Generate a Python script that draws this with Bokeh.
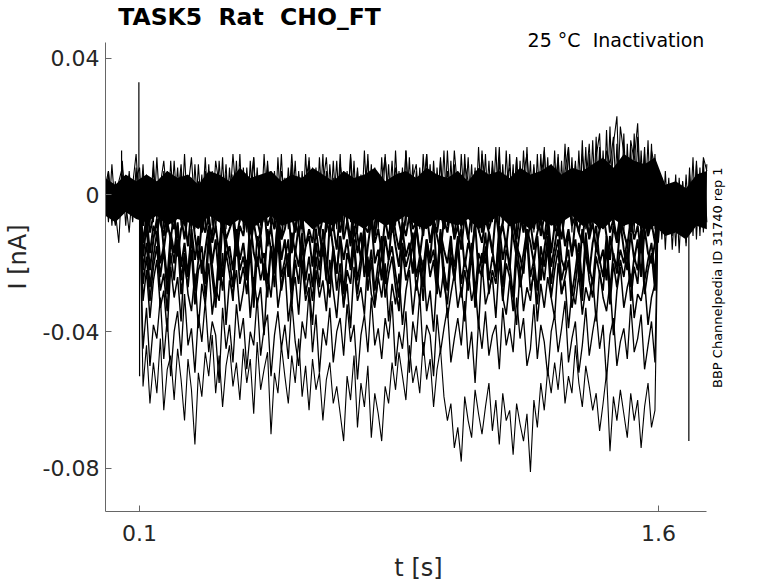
import numpy as np
from bokeh.plotting import figure
from bokeh.models import Range1d, FixedTicker, Label
from bokeh.embed import file_html
from bokeh.resources import INLINE

# ---------------- texts / ticks ----------------
title_text = "TASK5\u00a0 Rat\u00a0 CHO_FT"
cond_text = "25 °C\u00a0 Inactivation"
id_text = "BBP Channelpedia ID 31740 rep 1"
x_label = "t [s]"
y_label = "I [nA]"
x_ticks = [0.1, 1.6]
x_tick_labels = ["0.1", "1.6"]
y_ticks = [-0.08, -0.04, 0.0, 0.04]
y_tick_labels = ["-0.08", "-0.04", "0", "0.04"]
x_limits = (0.0015, 1.739)
y_limits = (-0.0926, 0.0446)

# ---------------- data (currents read in pA, 1 pA = 0.001 nA) ----------------
# solid core of the baseline band, sampled every 0.03 s from 0 to 1.74 s
env_hi = [5, 3, 6, 4,
          6, 4, 7, 5, 6, 3, 7, 6, 4, 8, 5, 6, 7, 4, 6, 5, 8, 6, 4, 7, 5, 6,
          8, 4, 6, 7, 5, 8, 6, 5, 7, 4, 8, 6, 7, 5, 8, 6, 7, 9, 6, 8, 7,
          9, 11, 8, 12, 10, 9, 11,
          3, 4, 2, 6, 7]
env_lo = [-6, -8, -5, -7,
          -8, -6, -9, -7, -8, -10, -6, -8, -9, -7, -10, -8, -6, -9, -8, -7,
          -10, -8, -9, -6, -8, -10, -7, -9, -8, -6, -9, -10, -7, -8, -9, -7,
          -10, -8, -6, -9, -8, -10, -7, -9, -8, -6, -9,
          -8, -10, -7, -9, -8, -10, -9,
          -12, -11, -13, -9, -10]

# baseline traces, whole record 0 .. 1.74 s (every 0.01 s)
band1 = [5, -8, 9, -5, -14, 6, -9, 7, -6, 8,
         -7, 9, -10, 4, -8, 11, -6, 7, -11, 10,
         -5, 8, -9, 12, -7, 5, -10, 9, -6, 11,
         -8, 7, -11, 10, -4, 9, -9, 6, -7, 12,
         -10, 8, -6, 11, -9, 5, -8, 10, -11, 7,
         -6, 12, -9, 8, -5, 10, -10, 7, -8, 11,
         -9, 6, -7, 12, -11, 9, -5, 10, -8, 7,
         -10, 11, -6, 8, -9, 13, -7, 9, -11, 6,
         -8, 12, -5, 10, -9, 7, -10, 13, -6, 9,
         -11, 8, -7, 12, -9, 10, -6, 11, -8, 13,
         -7, 9, -10, 12, -5, 11, -9, 8, -11, 13,
         -6, 10, -8, 14, -9, 9, -7, 12, -10, 11,
         -8, 13, -6, 10, -11, 12, -9, 14, -7, 9,
         -10, 12, -8, 15, -6, 11, -9, 13, -7, 14,
         -9, 16, -7, 14, -10, 19, -6, 15, 23, -8,
         -11, 15, -7, 18, -9, 13, -6, 16, -10, 12,
         -14, 5, -16, 3, -12, 6, -17, 4, -15, 8,
         -12, 9, -10, 10, -8]
band2 = [-6, 7, -9, 4, -7, 10, -5, 6, -8, 5,
         8, -9, 6, -6, 10, -8, 5, -10, 7, -7,
         10, -6, 7, -9, 4, -11, 9, -7, 6, -10,
         9, -9, 5, -7, 11, -10, 8, -6, 10, -8,
         6, -11, 10, -7, 8, -9, 12, -6, 7, -10,
         11, -7, 5, -10, 9, -8, 7, -11, 12, -6,
         8, -10, 11, -6, 7, -9, 10, -7, 12, -11,
         7, -8, 10, -11, 6, -7, 12, -9, 8, -10,
         11, -7, 9, -10, 13, -6, 8, -9, 11, -8,
         7, -10, 12, -6, 9, -11, 8, -7, 13, -9,
         10, -8, 7, -11, 12, -6, 9, -10, 14, -7,
         12, -9, 8, -7, 11, -10, 13, -6, 9, -11,
         10, -7, 14, -9, 8, -10, 12, -6, 11, -8,
         13, -9, 10, -7, 14, -11, 9, -8, 16, -10,
         12, -8, 17, -11, 13, -7, 20, -9, 15, -10,
         18, -8, 14, -11, 17, -7, 12, -9, 15, -10,
         4, -13, 7, -11, 2, -15, 5, -12, 6, -10,
         11, -13, 8, -11, 9]
band3 = [2, 7, -3, -9, 4, 8, -2, -11, 3, 12,
         -4, 6, 1, -9, 8, -6, 3, 10, -2, -8,
         5, -1, 9, -7, 2, 11, -5, 4, -10, 7,
         1, -6, 10, 3, -9, 6, -3, 12, -1, -7,
         8, -4, 2, 11, -8, 5, -2, 9, -6, 3,
         -10, 7, 1, -5, 12, -3, 6, -9, 4, 10,
         -2, 8, -7, 3, 11, -4, 5, -10, 9, 1,
         -6, 12, -3, 7, -9, 2, 10, -5, 6, -8,
         4, 11, -1, -10, 8, 3, -6, 13, -4, 5,
         9, -7, 2, 12, -3, 6, -9, 10, -2, 7,
         -5, 13, 1, -8, 9, 4, -11, 7, -3, 12,
         3, -6, 10, -2, 14, -9, 5, 8, -4, 11,
         -7, 6, 12, -3, 9, -10, 4, 13, -5, 8,
         2, 11, -8, 7, 14, -4, 10, -6, 12, 3,
         15, -5, 11, 18, -7, 13, 9, 17, -4, 20,
         12, -6, 16, 10, 21, -3, 14, -9, 13, 8,
         -13, 2, -9, 5, -16, 1, -11, 4, -14, 6,
         -9, 10, -12, 11, 7]

# conditioning-pulse sweeps, 0.10 .. 1.60 s (every 0.01 s)
sweep_f = [0, -9, -3, -11, -6, -1, -8, -12, -4, -7,
           -10, -2, -6, -13, -5, -9, -1, -7, -11, -4,
           -8, -12, -3, -6, -10, -2, -9, -5, -13, -7,
           -1, -8, -11, -4, -7, -12, -3, -9, -6, -10,
           -5, -13, -2, -8, -6, -11, -4, -10, -1, -7,
           -9, -3, -12, -6, -8, -2, -10, -5, -11, -4,
           -7, -13, -1, -9, -6, -10, -3, -8, -12, -5,
           -2, -9, -7, -11, -4, -8, -13, -6, -3, -10,
           -8, -5, -12, -2, -9, -7, -11, -4, -10, -1,
           -6, -12, -3, -9, -7, -13, -5, -8, -2, -11,
           -4, -10, -6, -1, -12, -8, -3, -9, -7, -13,
           -5, -11, -2, -8, -10, -4, -12, -6, -9, -3,
           -10, -7, -13, -5, -1, -9, -6, -11, -4, -8,
           -12, -3, -8, -10, -6, -2, -11, -7, -13, -5,
           -9, -4, -11, -7, -1, -10, -6, -12, -3, -8,
           0]
sweep_a = [0, -14, -6, -17, -9, -12, -4, -16, -8, -13,
           -5, -18, -10, -7, -15, -3, -12, -19, -8, -11,
           -6, -14, -9, -17, -4, -13, -10, -7, -18, -9,
           -12, -5, -16, -8, -14, -11, -3, -15, -9, -19,
           -7, -13, -10, -4, -17, -8, -12, -6, -15, -10,
           -14, -5, -11, -18, -7, -12, -9, -16, -4, -13,
           -8, -15, -6, -12, -19, -9, -11, -5, -14, -10,
           -17, -7, -13, -4, -11, -16, -8, -12, -6, -15,
           -9, -18, -10, -5, -14, -8, -12, -17, -7, -11,
           -4, -13, -9, -16, -6, -12, -19, -8, -10, -14,
           -7, -11, -17, -5, -13, -9, -15, -6, -12, -18,
           -10, -4, -14, -8, -16, -11, -7, -13, -5, -17,
           -9, -12, -6, -15, -10, -18, -7, -11, -14, -4,
           -13, -8, -16, -10, -5, -12, -19, -9, -14, -6,
           -11, -15, -7, -13, -9, -17, -5, -12, -8, -14,
           0]
sweep_h = [0, -18, -9, -22, -13, -7, -20, -15, -25, -11,
           -17, -8, -21, -14, -24, -10, -19, -12, -23, -16,
           -9, -20, -13, -25, -7, -18, -15, -22, -11, -19,
           -14, -23, -8, -17, -21, -12, -25, -10, -16, -20,
           -7, -19, -13, -24, -11, -17, -9, -22, -15, -12,
           -21, -10, -18, -14, -25, -8, -16, -23, -12, -19,
           -13, -22, -9, -17, -11, -24, -15, -7, -20, -16,
           -25, -12, -19, -8, -15, -21, -10, -18, -14, -23,
           -9, -17, -22, -13, -19, -7, -24, -11, -16, -20,
           -12, -25, -15, -10, -21, -14, -18, -8, -23, -17,
           -20, -11, -16, -24, -9, -19, -13, -22, -7, -15,
           -18, -23, -10, -14, -20, -12, -25, -16, -9, -21,
           -15, -8, -19, -22, -11, -17, -13, -24, -10, -18,
           -23, -14, -9, -20, -16, -25, -12, -18, -21, -8,
           -16, -22, -11, -19, -13, -24, -10, -17, -20, -14,
           0]
sweep_b = [0, -22, -14, -27, -18, -11, -24, -16, -29, -13,
           -20, -9, -25, -17, -23, -12, -28, -19, -15, -26,
           -11, -21, -30, -16, -24, -13, -19, -27, -10, -22,
           -18, -25, -14, -29, -12, -20, -17, -26, -15, -23,
           -9, -24, -19, -13, -28, -16, -21, -11, -25, -18,
           -27, -14, -22, -10, -19, -26, -15, -23, -12, -29,
           -17, -21, -13, -25, -18, -9, -24, -16, -28, -20,
           -12, -26, -19, -15, -23, -30, -14, -21, -17, -11,
           -24, -18, -27, -13, -20, -16, -25, -10, -22, -28,
           -15, -21, -12, -26, -19, -24, -14, -29, -17, -20,
           -11, -25, -18, -22, -13, -27, -16, -20, -30, -14,
           -23, -17, -10, -24, -19, -28, -15, -21, -12, -26,
           -18, -13, -25, -20, -16, -29, -22, -14, -27, -11,
           -21, -26, -15, -19, -24, -12, -28, -17, -23, -16,
           -20, -13, -27, -18, -22, -10, -25, -19, -14, -24,
           0]
sweep_g = [0, -26, -18, -31, -21, -15, -28, -23, -34, -17,
           -25, -13, -29, -20, -27, -16, -32, -22, -19, -30,
           -14, -24, -33, -19, -28, -17, -23, -31, -12, -26,
           -21, -29, -16, -33, -18, -25, -20, -30, -15, -27,
           -13, -28, -22, -17, -32, -19, -26, -14, -29, -23,
           -31, -18, -27, -14, -24, -30, -16, -28, -20, -33,
           -22, -26, -15, -29, -21, -12, -28, -19, -32, -24,
           -17, -30, -23, -18, -27, -34, -16, -25, -21, -14,
           -28, -20, -31, -15, -24, -19, -29, -13, -26, -32,
           -18, -25, -14, -30, -22, -28, -17, -33, -21, -24,
           -15, -29, -22, -26, -16, -31, -20, -24, -34, -18,
           -27, -21, -13, -28, -23, -32, -18, -25, -15, -30,
           -22, -16, -29, -24, -19, -33, -26, -17, -31, -14,
           -25, -30, -18, -23, -28, -15, -32, -20, -27, -19,
           -24, -16, -31, -21, -26, -13, -29, -22, -17, -28,
           0]
sweep_c = [0, -31, -22, -36, -25, -19, -33, -28, -40, -21,
           -30, -24, -37, -18, -29, -34, -23, -39, -26, -32,
           -20, -35, -27, -31, -17, -38, -25, -29, -22, -34,
           -28, -19, -36, -24, -32, -27, -41, -23, -30, -18,
           -33, -26, -21, -37, -29, -24, -35, -20, -31, -27,
           -38, -22, -30, -25, -34, -19, -28, -36, -23, -32,
           -26, -39, -21, -31, -27, -35, -18, -29, -33, -24,
           -30, -20, -37, -26, -32, -23, -38, -28, -22, -35,
           -25, -31, -19, -34, -28, -40, -24, -30, -21, -36,
           -29, -23, -33, -27, -37, -22, -31, -26, -39, -20,
           -32, -28, -24, -36, -19, -30, -35, -25, -29, -38,
           -22, -34, -27, -31, -21, -37, -26, -33, -24, -30,
           -36, -20, -29, -25, -39, -28, -32, -23, -35, -27,
           -31, -24, -37, -22, -30, -34, -26, -41, -28, -21,
           -33, -27, -23, -36, -29, -31, -25, -38, -30, -26,
           0]
sweep_d = [0, -45, -33, -50, -38, -42, -30, -48, -36, -53,
           -40, -34, -47, -29, -44, -39, -52, -35, -43, -31,
           -46, -37, -41, -55, -33, -45, -38, -49, -32, -42,
           -36, -51, -40, -44, -30, -47, -39, -35, -53, -41,
           -34, -45, -38, -48, -31, -43, -50, -37, -42, -28,
           -46, -35, -52, -39, -44, -33, -49, -40, -36, -47,
           -32, -43, -38, -54, -41, -35, -46, -30, -44, -39,
           -48, -36, -42, -31, -50, -40, -45, -34, -52, -37,
           -43, -29, -47, -38, -41, -53, -35, -46, -39, -33,
           -49, -42, -36, -44, -31, -48, -40, -55, -37, -45,
           -34, -47, -41, -38, -51, -33, -44, -39, -46, -30,
           -42, -36, -50, -45, -32, -48, -38, -43, -53, -40,
           -35, -46, -39, -31, -49, -42, -37, -52, -44, -33,
           -47, -40, -34, -45, -38, -54, -41, -36, -50, -43,
           -39, -48, -32, -46, -42, -35, -51, -44, -37, -49,
           0]
sweep_e = [0, -56, -44, -61, -49, -58, -42, -63, -51, -47,
           -60, -45, -54, -66, -48, -57, -73, -52, -59, -46,
           -53, -41, -58, -47, -62, -50, -44, -56, -49, -60,
           -45, -55, -48, -64, -43, -57, -51, -46, -70, -52,
           -58, -44, -53, -61, -47, -55, -42, -59, -50, -63,
           -48, -57, -52, -66, -54, -49, -61, -56, -64, -72,
           -53, -60, -47, -68, -55, -62, -50, -71, -58, -64,
           -72, -56, -61, -49, -57, -46, -53, -60, -44, -55,
           -50, -58, -43, -54, -48, -62, -51, -45, -59, -66,
           -61, -74, -68, -78, -59, -66, -71, -57, -64, -70,
           -62, -55, -69, -60, -73, -58, -66, -63, -76, -61,
           -67, -72, -64, -81, -60, -68, -55, -63, -51, -58,
           -49, -57, -46, -61, -53, -58, -44, -55, -62, -50,
           -56, -63, -58, -69, -61, -52, -75, -59, -66, -57,
           -64, -71, -58, -66, -60, -74, -62, -55, -68, -63,
           0]

# capacitive transients (time s, peak pA)
spike_t = [0.048, 0.098, 0.100, 1.688]
spike_pa = [13, 33, -53, -72]

PA = 1000.0

# the frame reaches a little beyond the axes so the side notes are not clipped
p = figure(frame_width=626, frame_height=509,
           min_border_left=99, min_border_right=37,
           min_border_top=2, min_border_bottom=60,
           x_range=Range1d(x_limits[0], 1.8113),
           y_range=Range1d(y_limits[0], 0.05631),
           output_backend="svg", toolbar_location=None,
           background_fill_color="white", border_fill_color="white")
p.outline_line_color = None
p.grid.visible = False

# baseline band core
env_t = np.linspace(0.0, 1.74, len(env_hi))
p.varea(x=env_t, y1=np.array(env_lo) / PA, y2=np.array(env_hi) / PA,
        fill_color="black", fill_alpha=1.0)

for tr, t0, t1, w in [(band1, 0.0, 1.74, 1.1), (band2, 0.0, 1.74, 1.1),
                      (band3, 0.0, 1.74, 1.1),
                      (sweep_f, 0.10, 1.60, 2.0), (sweep_a, 0.10, 1.60, 2.0),
                      (sweep_h, 0.10, 1.60, 2.0), (sweep_b, 0.10, 1.60, 1.8),
                      (sweep_g, 0.10, 1.60, 1.7), (sweep_c, 0.10, 1.60, 1.5),
                      (sweep_d, 0.10, 1.60, 1.3), (sweep_e, 0.10, 1.60, 1.1)]:
    tt = np.linspace(t0, t1, len(tr))
    p.line(tt, np.array(tr) / PA, line_color="black", line_width=w)

p.segment(x0=spike_t, y0=[0.0] * len(spike_t), x1=spike_t,
          y1=np.array(spike_pa) / PA, line_color="black", line_width=1.2)

axis_col = "#666666"
text_col = "#262626"
for ax, ticks, labels, lim in [(p.xaxis[0], x_ticks, x_tick_labels, x_limits),
                               (p.yaxis[0], y_ticks, y_tick_labels, y_limits)]:
    ax.ticker = FixedTicker(ticks=ticks)
    ax.major_label_overrides = dict(zip(ticks, labels))
    ax.bounds = lim
    ax.minor_tick_line_color = None
    ax.major_tick_in = 6
    ax.major_tick_out = 0
    ax.axis_line_color = axis_col
    ax.major_tick_line_color = axis_col
    ax.major_label_text_font = "DejaVu Sans"
    ax.major_label_text_font_size = "22px"
    ax.major_label_text_color = text_col
    ax.axis_label_text_font = "DejaVu Sans"
    ax.axis_label_text_font_size = "24px"
    ax.axis_label_text_font_style = "normal"
    ax.axis_label_text_color = text_col

p.xaxis.axis_label = x_label
p.yaxis.axis_label = y_label
p.xaxis.major_label_standoff = 13
p.xaxis.axis_label_standoff = 10
p.yaxis.major_label_standoff = 6
p.yaxis.axis_label_standoff = 8

p.add_layout(Label(x=0.0384, y=0.0520, text=title_text, text_align="left",
                   text_baseline="alphabetic", text_font="DejaVu Sans",
                   text_font_style="bold", text_font_size="23.5px",
                   text_color="black"))
p.add_layout(Label(x=1.733, y=0.0453, text=cond_text, text_align="right",
                   text_baseline="alphabetic", text_font="DejaVu Sans",
                   text_font_size="19px", text_color="black"))
p.add_layout(Label(x=1.7706, y=-0.0242, text=id_text, angle=np.pi / 2,
                   text_align="center", text_baseline="middle",
                   text_font="DejaVu Sans", text_font_size="13px",
                   text_color="black"))

open("out.html", "w").write(file_html(p, INLINE))
